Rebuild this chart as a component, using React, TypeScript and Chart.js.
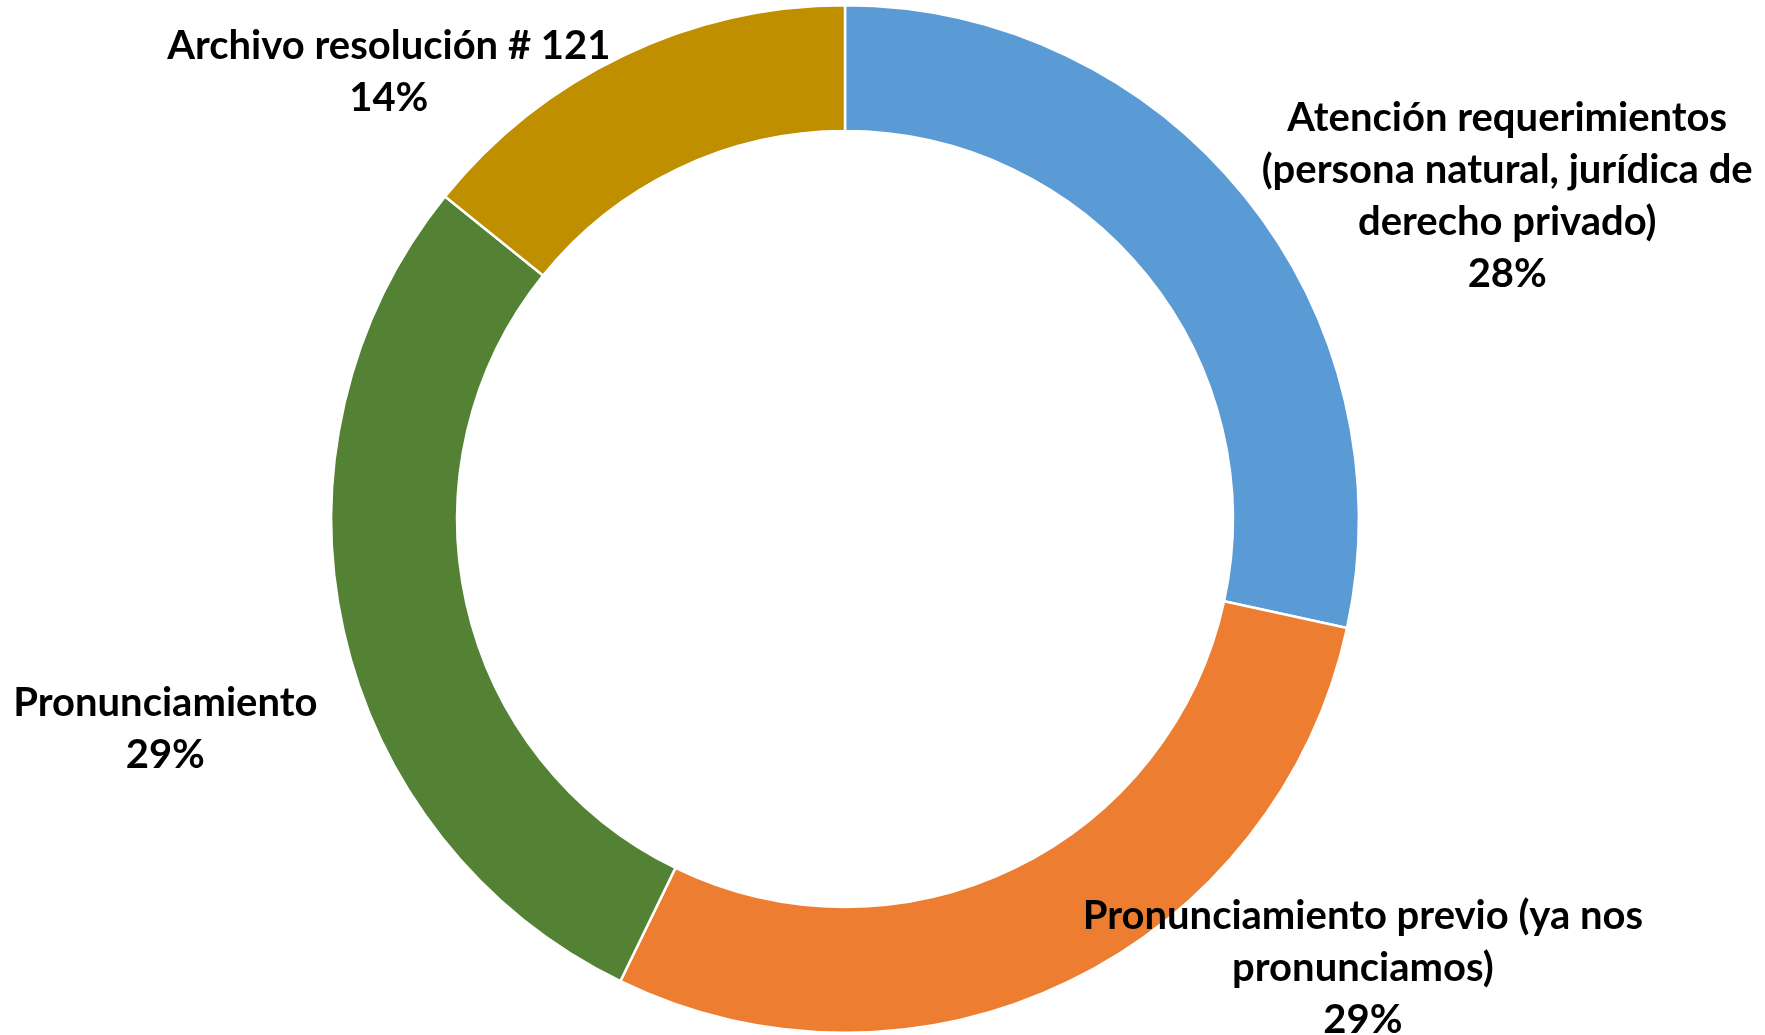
import React, { useEffect, useRef } from "react";
import { Chart, registerables } from "chart.js";

Chart.register(...registerables);

const categories: string[] = [
  "Atención requerimientos\n(persona natural, jurídica de\nderecho privado)",
  "Pronunciamiento previo (ya nos\npronunciamos)",
  "Pronunciamiento",
  "Archivo resolución # 121",
];
const values: number[] = [28.4, 28.8, 28.6, 14.2];
const colors: string[] = ["#5B9BD5", "#ED7D31", "#548235", "#BF8F00"];
// label centre offsets from the ring centre, in units of outer radius
const labelDx: number[] = [1.289, 1.008, -1.323, -0.888];
const labelDy: number[] = [-0.628, 0.874, 0.409, -0.869];

const FONT = "bold 40px Lato, 'Open Sans', sans-serif";
const LINE_H = 52;

const labelPlugin = {
  id: "ringLabels",
  afterDraw(chart: any) {
    const ctx = chart.ctx;
    const meta = chart.getDatasetMeta(0);
    const data: number[] = chart.data.datasets[0].data;
    const total = data.reduce((a, b) => a + b, 0);
    ctx.save();
    ctx.font = FONT;
    ctx.fillStyle = "#000000";
    ctx.textAlign = "center";
    ctx.textBaseline = "middle";
    meta.data.forEach((arc: any, i: number) => {
      const r = arc.outerRadius;
      const cx = arc.x + labelDx[i] * r;
      const cy = arc.y + labelDy[i] * r;
      const lines = String(chart.data.labels[i]).split("\n");
      lines.push(Math.round((data[i] / total) * 100) + "%");
      const top = cy - ((lines.length - 1) * LINE_H) / 2;
      lines.forEach((ln, k) => ctx.fillText(ln, cx, top + k * LINE_H));
    });
    ctx.restore();
  },
};

export default function App() {
  const ref = useRef<HTMLCanvasElement | null>(null);
  useEffect(() => {
    if (!ref.current) return;
    const chart = new Chart(ref.current, {
      type: "doughnut",
      data: {
        labels: categories,
        datasets: [
          {
            data: values,
            backgroundColor: colors,
            borderColor: "#FFFFFF",
            borderWidth: 2.5,
            hoverOffset: 0,
          },
        ],
      },
      options: {
        animation: false,
        responsive: false,
        cutout: "75.5%",
        layout: { padding: { top: 4, bottom: 1, left: 330, right: 405 } },
        plugins: { legend: { display: false }, tooltip: { enabled: false } },
      },
      plugins: [labelPlugin],
    });
    return () => chart.destroy();
  }, []);
  return (
    <div style={{ position: "absolute", left: 0, top: 0, width: 1765, height: 1035, background: "#fff" }}>
      <canvas ref={ref} width={1765} height={1035} style={{ width: 1765, height: 1035 }} />
    </div>
  );
}
